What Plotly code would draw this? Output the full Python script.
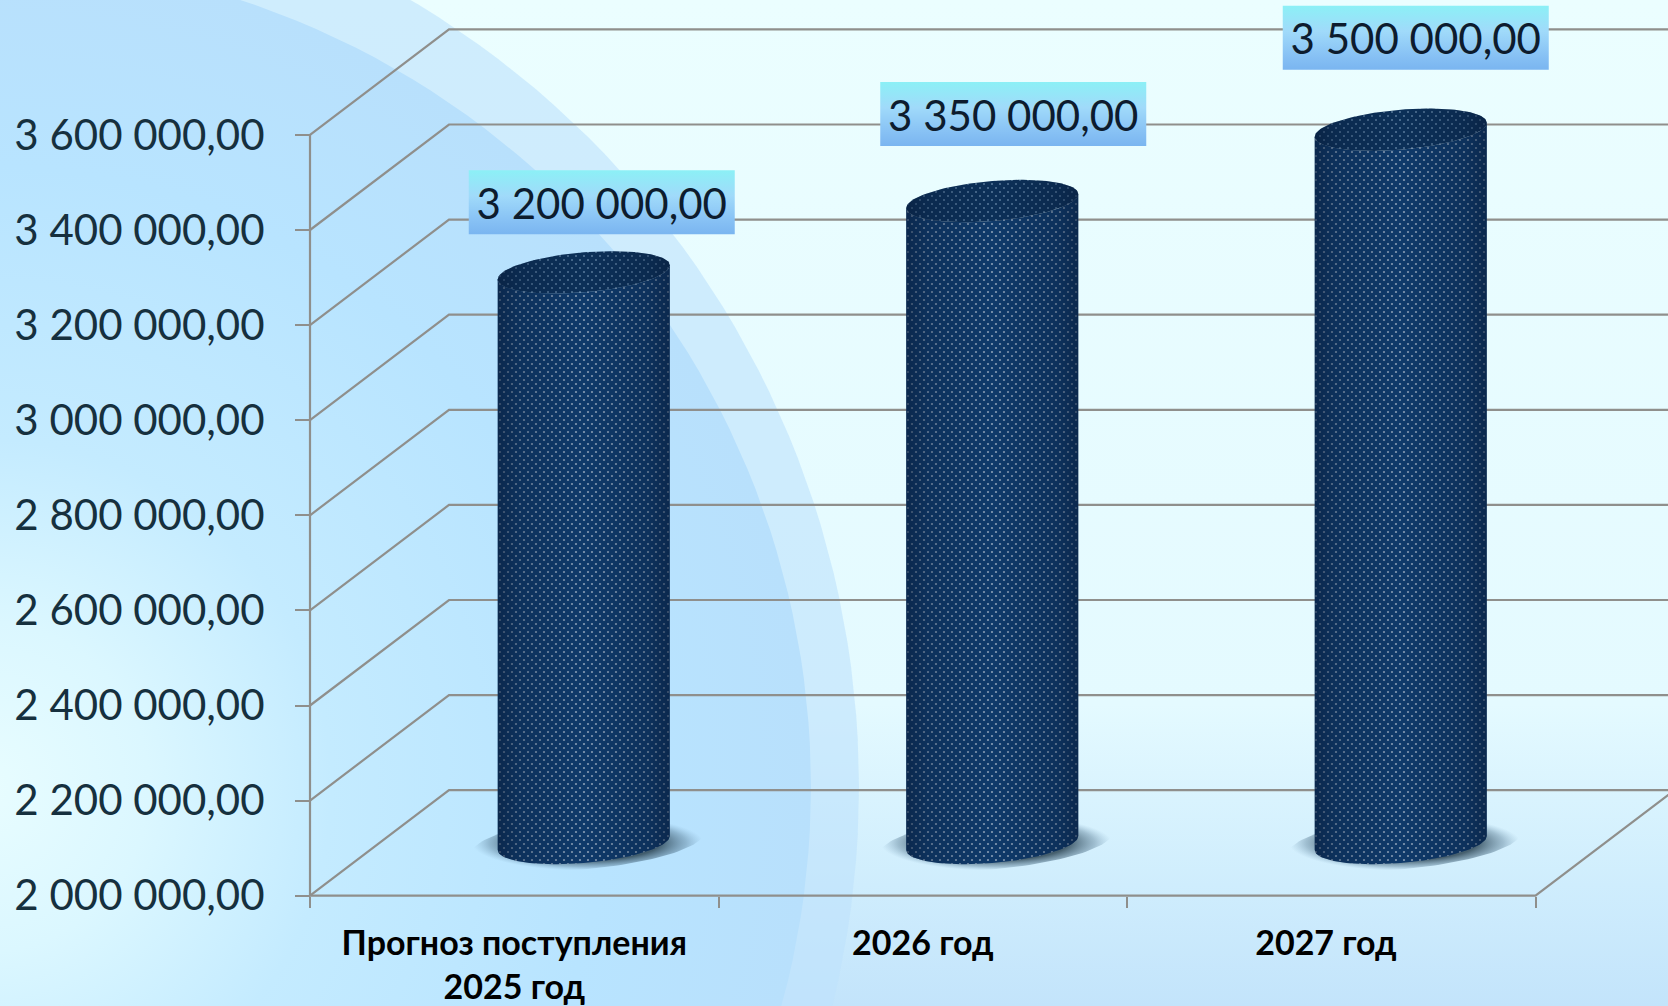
import numpy as np
import plotly.graph_objects as go

# ---------- data ----------
categories = ["Прогноз поступления<br>2025 год", "2026 год", "2027 год"]
values = [3200000, 3350000, 3500000]
value_labels = ["3 200 000,00", "3 350 000,00", "3 500 000,00"]
y_ticks = [2000000, 2200000, 2400000, 2600000, 2800000, 3000000, 3200000, 3400000, 3600000]
y_tick_labels = ["2 000 000,00", "2 200 000,00", "2 400 000,00", "2 600 000,00", "2 800 000,00",
                 "3 000 000,00", "3 200 000,00", "3 400 000,00", "3 600 000,00"]

# ---------- page / scale geometry ----------
W, H = 1668, 1006
AX_X, AX_Y = 310.0, 895.7           # pixel position of the axis origin
CAT_PX = 408.5                      # pixels per category
VAL_PER_PX = 200000 / 95.1          # value units per pixel
X0 = -0.5 - AX_X / CAT_PX
X1 = X0 + W / CAT_PX
Y0 = 2000000 - (H - AX_Y) * VAL_PER_PX
Y1 = 2000000 + AX_Y * VAL_PER_PX


def px(v):
    return X0 + np.asarray(v, float) / CAT_PX


def py(v):
    return 2000000 + (AX_Y - np.asarray(v, float)) * VAL_PER_PX


DX = 139 / CAT_PX                   # depth of the 3D box
DY = 105.5 * VAL_PER_PX
A = 86 / CAT_PX                     # cylinder half width
B = 20 * VAL_PER_PX                 # ellipse half height
S = 7 * VAL_PER_PX                  # ellipse tilt
GRID = "#8F8F8C"
DOT_PITCH = 8                       # px between dots of one lattice
HALF = DOT_PITCH / 2                # the second lattice sits half a pitch away

fig = go.Figure()


def poly(x, y, **kw):
    fig.add_trace(go.Scatter(x=list(x), y=list(y), mode="lines", fill="toself",
                             line=dict(width=0), hoverinfo="skip", showlegend=False, **kw))


def circle(cx, cy, r):
    t = np.linspace(0, 2 * np.pi, 240)
    return px(cx + r * np.cos(t)), py(cy + r * np.sin(t))


# background
poly([X0, X1, X1, X0, X0], [Y0, Y0, Y1, Y1, Y0],
     fillgradient=dict(type="vertical",
                       colorscale=[[0, "#C3E4FB"], [0.12, "#CFEDFD"], [0.3, "#E4FAFF"], [1, "#EBFEFF"]]))
# big decorative discs
x, y = circle(-56, 787, 915)
poly(x, y, fillcolor="rgba(190,226,252,0.62)")
x, y = circle(-17, 787, 828)
poly(x, y, fillgradient=dict(type="radial",
                             colorscale=[[0, "#E8FDFF"], [0.2, "#DBF7FF"], [0.42, "#C4EBFF"],
                                         [0.75, "#B8E4FF"], [1, "#B8E0FC"]]))

# 3D frame lines
gx, gy = [], []
for t in y_ticks:
    gx += [-0.5, -0.5 + DX, 2.5 + DX, None]
    gy += [t, t + DY, t + DY, None]
gx += [-0.5, -0.5, None, -0.5, 2.5, 2.5 + DX, None]
gy += [y_ticks[0], y_ticks[-1], None, y_ticks[0], y_ticks[0], y_ticks[0] + DY, None]
fig.add_trace(go.Scatter(x=gx, y=gy, mode="lines", line=dict(color=GRID, width=2.2),
                         hoverinfo="skip", showlegend=False))

# cylinders
th = np.linspace(0, 2 * np.pi, 121)
front = np.linspace(np.pi, 2 * np.pi, 61)
back = front[::-1]
CLEAR = "rgba(0,0,0,0)"
shade = [[0, "rgba(8,28,58,0.6)"], [0.12, "rgba(8,28,58,0.3)"], [0.5, "rgba(8,28,58,0)"],
         [0.88, "rgba(8,28,58,0.3)"], [1, "rgba(8,28,58,0.6)"]]
SIDE_BG, TOP_BG = "#0F3A6A", "#0C3058"
SIDE_DOT, TOP_DOT = "#FFFFFF", "#A8C6E0"
for i, v in enumerate(values):
    cx = i + DX / 2
    base = y_ticks[0] + DY / 2
    top = v + DY / 2
    # shadow
    sx = cx + 4 / CAT_PX + 116 / CAT_PX * np.cos(th)
    sy = base + 26 * VAL_PER_PX * np.sin(th) + 10 * VAL_PER_PX * np.cos(th)
    poly(sx, sy, fillgradient=dict(type="radial",
                                   colorscale=[[0, "rgba(35,55,70,0.95)"], [0.62, "rgba(45,70,85,0.85)"],
                                               [0.85, "rgba(80,115,140,0.4)"], [1, "rgba(120,160,190,0)"]]))
    xs = np.r_[cx + A * np.cos(front), cx + A * np.cos(back)]
    ys = np.r_[base + B * np.sin(front) + S * np.cos(front),
               top + B * np.sin(back) + S * np.cos(back)]
    xt = cx + A * np.cos(th)
    yt = top + B * np.sin(th) + S * np.cos(th)
    # first dot lattice
    poly(xs, ys, fillcolor=SIDE_BG,
         fillpattern=dict(shape=".", size=DOT_PITCH, solidity=0.06, fgcolor=SIDE_DOT, bgcolor=SIDE_BG))
    poly(xt, yt, fillcolor=TOP_BG,
         fillpattern=dict(shape=".", size=DOT_PITCH, solidity=0.05, fgcolor=TOP_DOT, bgcolor=TOP_BG))

for i, v in enumerate(values):
    cx = i + DX / 2
    base = y_ticks[0] + DY / 2
    top = v + DY / 2
    xs = np.r_[cx + A * np.cos(front), cx + A * np.cos(back)]
    ys = np.r_[base + B * np.sin(front) + S * np.cos(front),
               top + B * np.sin(back) + S * np.cos(back)]
    xt = cx + A * np.cos(th)
    yt = top + B * np.sin(th) + S * np.cos(th)
    # second dot lattice and the shading, on a twin of the axes moved half a pitch
    poly(xs, ys, xaxis="x2", yaxis="y2", fillcolor=CLEAR,
         fillpattern=dict(shape=".", size=DOT_PITCH, solidity=0.06, fgcolor=SIDE_DOT, bgcolor=CLEAR))
    poly(xt, yt, xaxis="x2", yaxis="y2", fillcolor=CLEAR,
         fillpattern=dict(shape=".", size=DOT_PITCH, solidity=0.05, fgcolor=TOP_DOT, bgcolor=CLEAR))
    poly(xs, ys, xaxis="x2", yaxis="y2", fillgradient=dict(type="horizontal", colorscale=shade))
    poly(xt, yt, xaxis="x2", yaxis="y2", fillgradient=dict(type="horizontal", colorscale=shade))

# value label boxes
label_dx = [18 / CAT_PX, 21 / CAT_PX, 15 / CAT_PX]
label_dy = [70 * VAL_PER_PX, 87 * VAL_PER_PX, 92 * VAL_PER_PX]
text_drop = 6 * VAL_PER_PX
box_w, box_h = 133 / CAT_PX, 32 * VAL_PER_PX
for i, v in enumerate(values):
    cx = i + DX / 2 + label_dx[i]
    cy = v + DY / 2 + label_dy[i]
    poly([cx - box_w, cx + box_w, cx + box_w, cx - box_w, cx - box_w],
         [cy - box_h, cy - box_h, cy + box_h, cy + box_h, cy - box_h],
         fillgradient=dict(type="vertical",
                           colorscale=[[0, "#7AB5F0"], [0.2, "#86C0F4"], [0.6, "#A0DAFA"], [1, "#8CF0F6"]]))
    fig.add_trace(go.Scatter(x=[cx], y=[cy - text_drop], mode="text", text=[value_labels[i]],
                             textposition="middle center",
                             textfont=dict(family="Lato", size=42, color="#0D1C2E"),
                             hoverinfo="skip", showlegend=False))

fig.update_layout(
    width=W, height=H, margin=dict(l=0, r=0, t=0, b=0), showlegend=False,
    paper_bgcolor="#EBFEFF", plot_bgcolor="rgba(0,0,0,0)",
    xaxis=dict(range=[X0, X1], domain=[0, 1], anchor="free", position=(H - AX_Y) / H,
               showgrid=False, zeroline=False, showline=False,
               tickmode="array", tickvals=[0, 1, 1.987], ticktext=categories, ticks="",
               tickfont=dict(family="Lato", size=34, color="#000000", weight="bold"),
               ticklabelstandoff=24,
               minor=dict(tickmode="array", tickvals=[-0.5, 0.5, 1.5, 2.5], ticks="outside",
                          ticklen=11, tickwidth=2, tickcolor=GRID, showgrid=False)),
    yaxis=dict(range=[Y0, Y1], domain=[0, 1], anchor="free", position=AX_X / W,
               showgrid=False, zeroline=False, showline=False,
               tickmode="array", tickvals=y_ticks, ticktext=y_tick_labels,
               ticks="outside", ticklen=15, tickwidth=2, tickcolor=GRID,
               tickfont=dict(family="Lato", size=42, color="#16303E"),
               ticklabelstandoff=22),
    xaxis2=dict(range=[X0 + HALF / CAT_PX, X1], domain=[HALF / W, 1], anchor="y2", visible=False),
    yaxis2=dict(range=[Y0, Y1 - HALF * VAL_PER_PX], domain=[0, 1 - HALF / H], anchor="x2", visible=False),
)

fig.write_html("out.html", config=dict(displayModeBar=False),
               post_script="document.body.style.margin='0';document.body.style.overflow='hidden';")
